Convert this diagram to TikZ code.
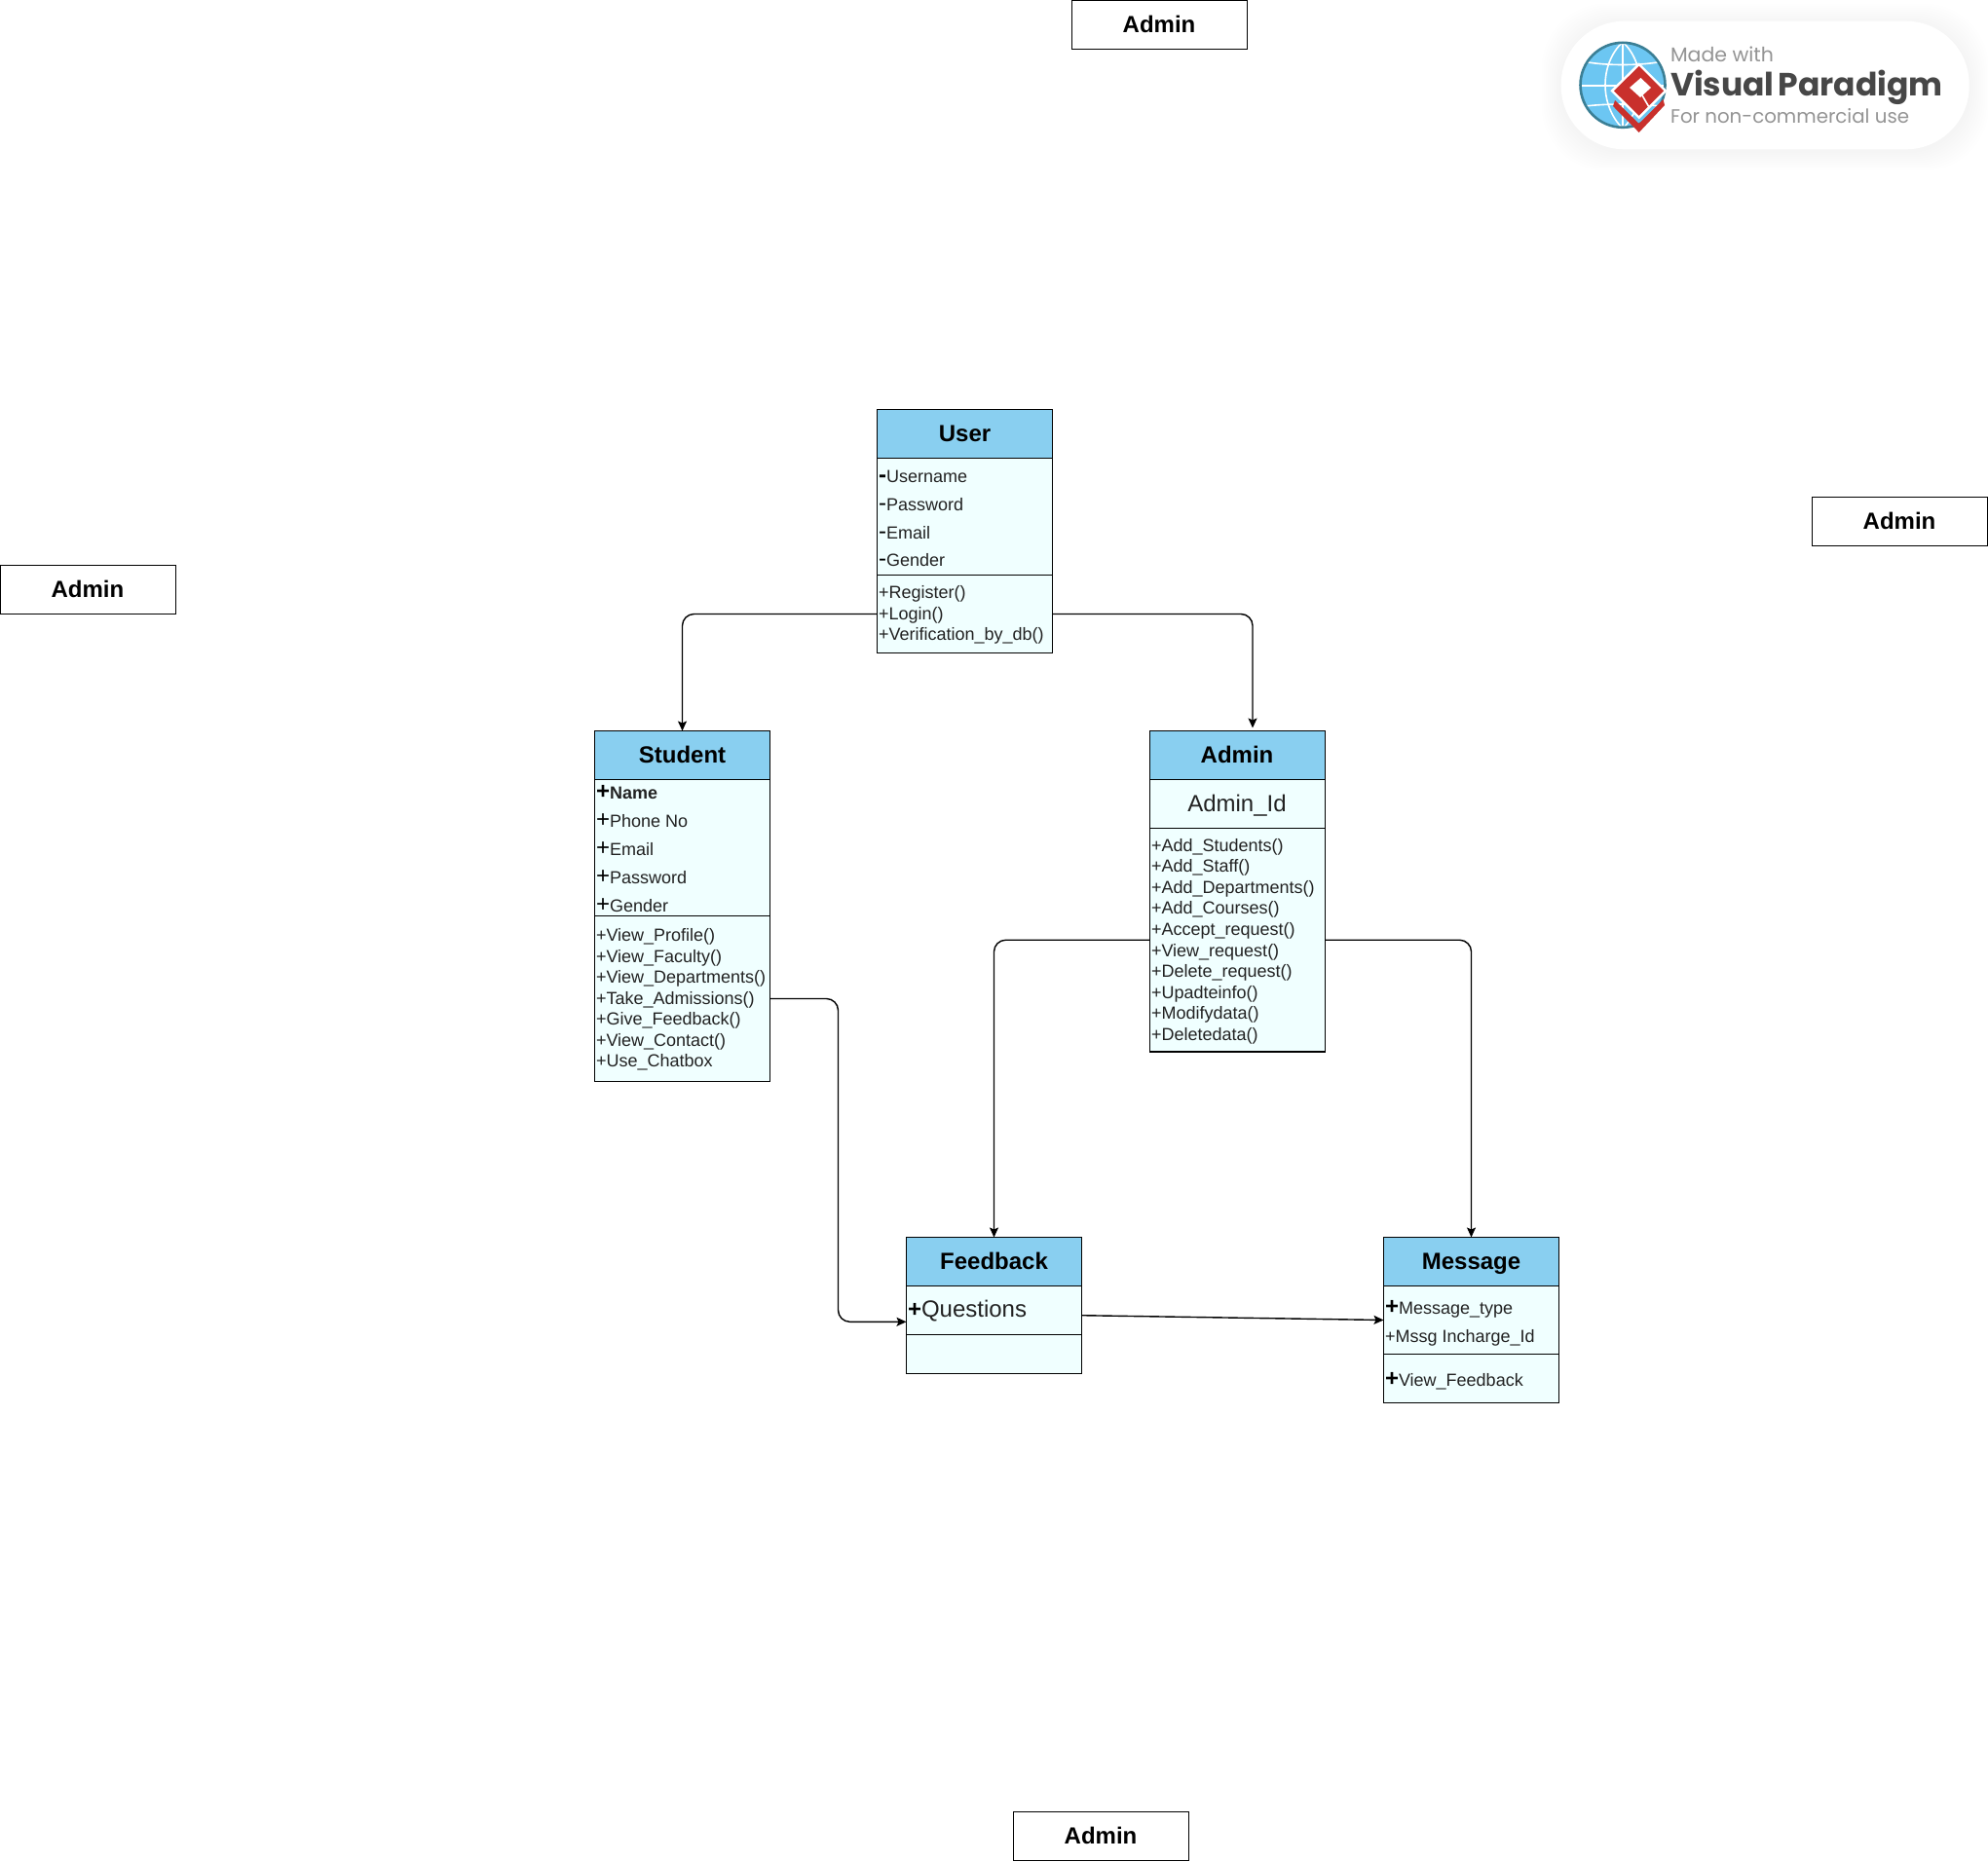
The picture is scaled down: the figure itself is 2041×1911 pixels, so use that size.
\documentclass[tikz,border=0pt]{standalone}
\usepackage{fontspec}
\setmainfont{Liberation Sans}
\newfontfamily\logofont{Poppins}
\usetikzlibrary{arrows.meta}
\definecolor{headblue}{HTML}{89CFF0}
\definecolor{bodyblue}{HTML}{F0FFFF}
\definecolor{inkgrey}{HTML}{222222}
\definecolor{globeblue}{HTML}{6CC6F2}
\definecolor{globeteal}{HTML}{3B7F95}
\definecolor{logored}{HTML}{C9302C}
\newcommand{\Sx}{\fontsize{18}{21.6}\selectfont}
\newcommand{\Lg}[1]{{\fontsize{24}{24}\selectfont\color{black}#1}}
\newcommand{\LgB}[1]{{\fontsize{24}{24}\selectfont\bfseries\color{black}#1}}
\tikzset{
  x=1pt,y=-1pt,
  part/.style={draw=black,line width=1.4pt,inner sep=0pt,outer sep=0pt,anchor=north west,minimum width=180pt},
  head/.style={part,fill=headblue,minimum height=50pt,font=\fontsize{24}{24}\selectfont\bfseries},
  compartment/.style={part,fill=bodyblue},
  plainbox/.style={part,fill=white,minimum height=50pt,font=\fontsize{24}{24}\selectfont\bfseries},
  ttl/.style={inner sep=0pt,outer sep=0pt,anchor=base,font=\fontsize{24}{24}\selectfont\bfseries,text=black},
  item/.style={inner sep=0pt,outer sep=0pt,anchor=base west,font=\Sx,text=inkgrey},
  link/.style={draw=black,line width=1.4pt,rounded corners=12pt,-{Stealth[length=10pt,width=9pt,inset=2pt]}},
  logotxt/.style={inner sep=0pt,outer sep=0pt,anchor=base west},
  gridline/.style={white,line width=1.6pt},
}
\begin{document}
\begin{tikzpicture}
\useasboundingbox (0,0) rectangle (2041,1911);
\fill[white] (0,0) rectangle (2041,1911);

% stand-alone Admin boxes
\node[plainbox] (adminA) at (1100.5,0.5) {};
\node[ttl] (adminAt) at (1190,33.5) {Admin};
\node[plainbox] (adminB) at (1860.5,510.5) {};
\node[ttl] (adminBt) at (1950,543.5) {Admin};
\node[plainbox] (adminC) at (0.5,580.5) {};
\node[ttl] (adminCt) at (90,613.5) {Admin};
\node[plainbox] (adminD) at (1040.5,1860.5) {};
\node[ttl] (adminDt) at (1130,1893.5) {Admin};

% User
\node[head] (userH) at (900.5,420.5) {};
\node[ttl] (userT) at (990.5,453) {User};
\node[compartment,minimum height=120pt] (userA) at (900.5,470.5) {};
\node[compartment,minimum height=80pt] (userO) at (900.5,590.5) {};
\node[item] (u1) at (902,495) {\LgB{-}Username};
\node[item] (u2) at (902,524) {\Lg{-}Password};
\node[item] (u3) at (902,553) {\Lg{-}Email};
\node[item] (u4) at (902,581) {\Lg{-}Gender};
\node[item] (u5) at (902,614.5) {+Register()};
\node[item] (u6) at (902,636) {+Login()};
\node[item] (u7) at (902,657.6) {+Verification\_by\_db()};

% Student
\node[head] (stuH) at (610.5,750.5) {};
\node[ttl] (stuT) at (700.5,783) {Student};
\node[compartment,minimum height=140pt] (stuA) at (610.5,800.5) {};
\node[compartment,minimum height=170pt] (stuO) at (610.5,940.5) {};
\node[item] (s1) at (612,820.5) {\LgB{+}\textbf{Name}};
\node[item] (s2) at (612,849) {\Lg{+}Phone No};
\node[item] (s3) at (612,878) {\Lg{+}Email};
\node[item] (s4) at (612,907.2) {\Lg{+}Password};
\node[item] (s5) at (612,936.2) {\Lg{+}Gender};
\node[item] (s6) at (612,966.7) {+View\_Profile()};
\node[item] (s7) at (612,988.3) {+View\_Faculty()};
\node[item] (s8) at (612,1009.9) {+View\_Departments()};
\node[item] (s9) at (612,1031.5) {+Take\_Admissions()};
\node[item] (s10) at (612,1052.6) {+Give\_Feedback()};
\node[item] (s11) at (612,1074.2) {+View\_Contact()};
\node[item] (s12) at (612,1095.5) {+Use\_Chatbox};

% Admin
\node[head] (admH) at (1180.5,750.5) {};
\node[ttl] (admT) at (1270,783) {Admin};
\node[compartment,minimum height=50pt] (admA) at (1180.5,800.5) {};
\node[compartment,minimum height=229.5pt] (admO) at (1180.5,850.5) {};
\node[inner sep=0pt,outer sep=0pt,anchor=base,font=\fontsize{24}{24}\selectfont,text=inkgrey] (a0) at (1270,833) {Admin\_Id};
\node[item] (a1) at (1182,874.3) {+Add\_Students()};
\node[item] (a2) at (1182,895.6) {+Add\_Staff()};
\node[item] (a3) at (1182,917.3) {+Add\_Departments()};
\node[item] (a4) at (1182,938.6) {+Add\_Courses()};
\node[item] (a5) at (1182,960.5) {+Accept\_request()};
\node[item] (a6) at (1182,982.3) {+View\_request()};
\node[item] (a7) at (1182,1003.9) {+Delete\_request()};
\node[item] (a8) at (1182,1025.5) {+Upadteinfo()};
\node[item] (a9) at (1182,1046.6) {+Modifydata()};
\node[item] (a10) at (1182,1068.5) {+Deletedata()};

% Feedback
\node[head] (fbH) at (930.5,1270.5) {};
\node[ttl] (fbT) at (1020.5,1303) {Feedback};
\node[compartment,minimum height=50pt] (fbA) at (930.5,1320.5) {};
\node[compartment,minimum height=40pt] (fbO) at (930.5,1370.5) {};
\node[item,font=\fontsize{24}{24}\selectfont] (f1) at (932,1352.5) {\LgB{+}Questions};

% Message
\node[head] (msgH) at (1420.5,1270.5) {};
\node[ttl] (msgT) at (1510.5,1303) {Message};
\node[compartment,minimum height=70pt] (msgA) at (1420.5,1320.5) {};
\node[compartment,minimum height=50pt] (msgO) at (1420.5,1390.5) {};
\node[item] (m1) at (1422,1349) {\LgB{+}Message\_type};
\node[item] (m2) at (1422,1378.3) {+Mssg Incharge\_Id};
\node[item] (m3) at (1422,1423) {\LgB{+}View\_Feedback};

% connectors
\draw[link] (userO.west) -| (stuH.north);
\draw[link] (userO.east) -| ([xshift=15.5pt,yshift=3pt]admH.north);
\draw[link] (admO.west) -| (fbH.north);
\draw[link] (admO.east) -| (msgH.north);
\draw[link] (stuO.east) -- ++(70,0) |- ([yshift=-11.8pt]fbA.west);
\draw[link] ([yshift=-5.2pt]fbA.east) -- (msgA.west);

% Visual Paradigm badge
\foreach \g in {20,18,...,2}{
  \fill[black,opacity=.005,rounded corners=66pt] (1602.7-\g,21.7-\g+2) rectangle (2021.7+\g,153.3+\g+2);
}
\fill[white,rounded corners=65pt] (1602.7,21.7) rectangle (2021.7,153.3);
\begin{scope}
  \fill[globeblue] (1666,87.3) circle (44);
  \clip (1666,87.3) circle (43);
  \draw[gridline] (1620,62) .. controls (1645,68) and (1687,68) .. (1712,62);
  \draw[gridline] (1620,88) -- (1712,88);
  \draw[gridline] (1620,110) .. controls (1645,106) and (1687,106) .. (1712,110);
  \draw[gridline] (1666,43) -- (1666,132);
  \draw[gridline] (1666,43) .. controls (1642,66) and (1642,108) .. (1666,132);
  \draw[gridline] (1666,43) .. controls (1690,66) and (1690,108) .. (1666,132);
\end{scope}
\draw[draw=globeteal,line width=2.6pt] (1666,87.3) circle (43.5);
% chevron below the diamond
\fill[logored] (1658,103) -- (1682.7,127) -- (1707.5,102) -- (1709,108) -- (1682.7,136) -- (1656,109) -- cycle;
% diamond with its hole
\filldraw[draw=white,line width=2.4pt,fill=logored] (1655,93.3) -- (1682.7,66) -- (1710,93.3) -- (1682.7,120.7) -- cycle;
\fill[white] (1673,90) -- (1684.5,80) -- (1695,90) -- (1684,100) -- cycle;
\draw[white,line width=1.6pt] (1686,98) -- (1693,110);
\node[logotxt,text=black!42,font=\logofont\fontsize{20.5}{22}\selectfont] (vp1) at (1715,63.3) {Made with};
\node[logotxt,text=black!72,font=\logofont\bfseries\fontsize{33}{36}\selectfont] (vp2) at (1715,98.3) {Visual\kern4pt Paradigm};
\node[logotxt,text=black!42,font=\logofont\fontsize{19.8}{22}\selectfont] (vp3) at (1715,126) {For non-commercial use};
\end{tikzpicture}
\end{document}
